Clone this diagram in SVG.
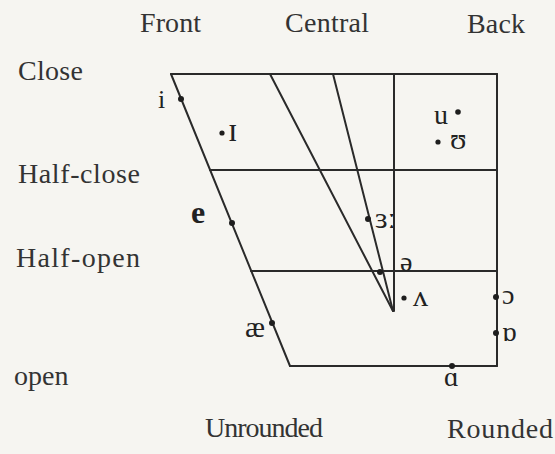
<svg xmlns="http://www.w3.org/2000/svg" width="555" height="454" viewBox="0 0 555 454">
<style>
.lbl{font-family:"Liberation Serif","Times New Roman",serif;font-size:28px;fill:#333}
.v{font-family:"Liberation Serif","DejaVu Serif",serif;fill:#222}
.ln{stroke:#2a2a2a;stroke-width:2;fill:none;stroke-linecap:round}
.dot{fill:#1e1e1e}
</style>
<rect width="555" height="454" fill="#f6f5f1"/>
<g id="labels">
<text id="front" class="lbl" x="140" y="32" textLength="61">Front</text>
<text id="central" class="lbl" x="285" y="32" textLength="84">Central</text>
<text id="back" class="lbl" x="467" y="33" textLength="58">Back</text>
<text id="close" class="lbl" x="18" y="80" textLength="65">Close</text>
<text id="half-close" class="lbl" x="18" y="183" textLength="122">Half-close</text>
<text id="half-open" class="lbl" x="16" y="267" textLength="124">Half-open</text>
<text id="open" class="lbl" x="14" y="385">open</text>
<text id="unrounded" class="lbl" x="205" y="437" textLength="118">Unrounded</text>
<text id="rounded" class="lbl" x="447" y="438" textLength="106">Rounded</text>
</g>
<g id="connectors" class="ln">
<line x1="171" y1="74" x2="497" y2="74"/>
<line x1="171" y1="74" x2="290" y2="366"/>
<line x1="290" y1="366" x2="497" y2="366"/>
<line x1="497" y1="74" x2="497" y2="366"/>
<line x1="210" y1="170" x2="497" y2="170"/>
<line x1="251" y1="271" x2="497" y2="271"/>
<line x1="394" y1="74" x2="394" y2="311"/>
<line x1="270" y1="74" x2="393" y2="311"/>
<line x1="333" y1="74" x2="393" y2="311"/>
</g>
<g id="vowel-i"><circle class="dot" cx="181" cy="99" r="3"/><text class="v" x="158" y="108" font-size="26">i</text></g>
<g id="vowel-I"><circle class="dot" cx="222" cy="133" r="2.6"/><text class="v" x="228" y="141" font-size="34">ɪ</text></g>
<g id="vowel-e"><circle class="dot" cx="232" cy="223" r="3"/><text class="v" x="191" y="223" font-size="32" font-weight="bold">e</text></g>
<g id="vowel-ae"><circle class="dot" cx="272" cy="323" r="3"/><text class="v" x="245" y="337" font-size="30">æ</text></g>
<g id="vowel-3"><circle class="dot" cx="368" cy="219" r="3"/><text class="v" x="375" y="228" font-size="30">ɜː</text></g>
<g id="vowel-schwa"><circle class="dot" cx="380" cy="272" r="3"/><text class="v" x="400" y="271" font-size="28">ə</text></g>
<g id="vowel-wedge"><circle class="dot" cx="404" cy="298" r="2.6"/><text class="v" x="413" y="306" font-size="30">ʌ</text></g>
<g id="vowel-u"><circle class="dot" cx="458" cy="112" r="2.8"/><text class="v" x="434" y="124" font-size="28">u</text></g>
<g id="vowel-U"><circle class="dot" cx="438" cy="142" r="2.6"/><text class="v" x="450" y="149" font-size="30">ʊ</text></g>
<g id="vowel-open-o"><circle class="dot" cx="496" cy="297" r="3"/><text class="v" x="502" y="304" font-size="28">ɔ</text></g>
<g id="vowel-turned-a"><circle class="dot" cx="496" cy="333" r="3"/><text class="v" x="502" y="341" font-size="28">ɒ</text></g>
<g id="vowel-a"><circle class="dot" cx="452" cy="366" r="3"/><text class="v" x="444" y="386" font-size="28">ɑ</text></g>
</svg>
